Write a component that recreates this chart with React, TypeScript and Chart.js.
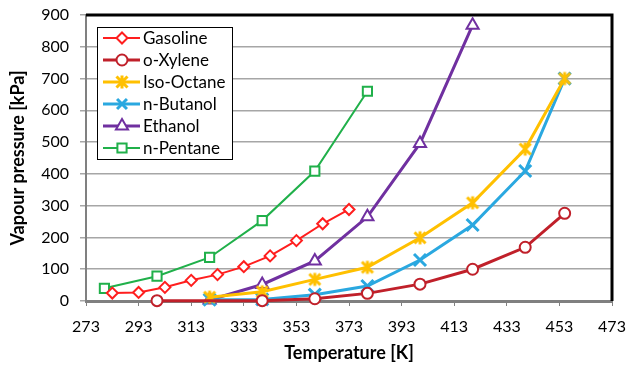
import React, { useEffect, useRef } from 'react';
import { Chart, registerables } from 'chart.js';
Chart.register(...registerables);

const FONT = 'Lato, "Open Sans", sans-serif';

// ---- data ----
const gasolineT = [283, 293, 303, 313, 323, 333, 343, 353, 363, 373];
const gasolineP = [25, 27, 43, 65, 83, 108, 142, 190, 243, 288];

const xyleneT = [300, 340, 360, 380, 400, 420, 440, 455];
const xyleneP = [1, 1, 7, 24, 53, 100, 169, 276];

const isoOctaneT = [320, 340, 360, 380, 400, 420, 440, 455];
const isoOctaneP = [12, 29, 68, 106, 199, 309, 478, 700];

const butanolT = [320, 340, 360, 380, 400, 420, 440, 455];
const butanolP = [4, 5, 20, 47, 129, 239, 409, 700];

const ethanolT = [320, 340, 360, 380, 400, 420];
const ethanolP = [3, 52, 126, 265, 496, 868];

const pentaneT = [280, 300, 320, 340, 360, 380];
const pentaneP = [40, 78, 137, 253, 409, 660];

const seriesLabels = ['Gasoline', 'o-Xylene', 'Iso-Octane', 'n-Butanol', 'Ethanol', 'n-Pentane'];
const xTitle = 'Temperature [K]';
const yTitle = 'Vapour pressure [kPa]';

// ---- styles ----
const styles = [
  { color: '#ff1e1e', width: 2, point: 'rectRot', radius: 5.5, fill: '#ffffff', pw: 2 },
  { color: '#c0202a', width: 3, point: 'circle', radius: 5.5, fill: '#ffffff', pw: 2 },
  { color: '#ffc000', width: 3, point: 'asterisk', radius: 6.5, fill: '#ffc000', pw: 3 },
  { color: '#2aa8e0', width: 3, point: 'crossRot', radius: 8.5, fill: '#2aa8e0', pw: 3 },
  { color: '#7030a0', width: 3, point: 'triangle', radius: 7, fill: '#ffffff', pw: 2 },
  { color: '#20b04a', width: 2, point: 'rect', radius: 6.5, fill: '#ffffff', pw: 2 },
];

const seriesData = [
  [gasolineT, gasolineP],
  [xyleneT, xyleneP],
  [isoOctaneT, isoOctaneP],
  [butanolT, butanolP],
  [ethanolT, ethanolP],
  [pentaneT, pentaneP],
];

function drawMarker(ctx: CanvasRenderingContext2D, kind: string, x: number, y: number, r: number, stroke: string, fill: string, lw: number) {
  ctx.save();
  ctx.strokeStyle = stroke;
  ctx.fillStyle = fill;
  ctx.lineWidth = lw;
  ctx.beginPath();
  if (kind === 'rectRot') {
    ctx.moveTo(x, y - r); ctx.lineTo(x + r, y); ctx.lineTo(x, y + r); ctx.lineTo(x - r, y); ctx.closePath();
    ctx.fill(); ctx.stroke();
  } else if (kind === 'circle') {
    ctx.arc(x, y, r, 0, Math.PI * 2); ctx.fill(); ctx.stroke();
  } else if (kind === 'rect') {
    const s = r * Math.SQRT1_2;
    ctx.rect(x - s, y - s, 2 * s, 2 * s); ctx.fill(); ctx.stroke();
  } else if (kind === 'triangle') {
    ctx.moveTo(x, y - r); ctx.lineTo(x + r * 0.866, y + r * 0.5); ctx.lineTo(x - r * 0.866, y + r * 0.5); ctx.closePath();
    ctx.fill(); ctx.stroke();
  } else if (kind === 'crossRot') {
    const s = r * Math.SQRT1_2;
    ctx.moveTo(x - s, y - s); ctx.lineTo(x + s, y + s); ctx.moveTo(x + s, y - s); ctx.lineTo(x - s, y + s); ctx.stroke();
  } else if (kind === 'asterisk') {
    const s = r * 0.85;
    ctx.moveTo(x - s, y - s); ctx.lineTo(x + s, y + s); ctx.moveTo(x + s, y - s); ctx.lineTo(x - s, y + s);
    ctx.moveTo(x, y - r); ctx.lineTo(x, y + r);
    ctx.stroke();
  }
  ctx.restore();
}

function makeAsterisk(color: string, r: number, lw: number): HTMLCanvasElement {
  const size = Math.ceil(2 * r + lw + 2);
  const c = document.createElement('canvas');
  c.width = size;
  c.height = size;
  const cx = c.getContext('2d') as CanvasRenderingContext2D;
  drawMarker(cx, 'asterisk', size / 2, size / 2, r, color, color, lw);
  return c;
}

const framePlugin = {
  id: 'frame',
  beforeDatasetsDraw(chart: any) {
    const { ctx, chartArea: a } = chart;
    ctx.save();
    ctx.strokeStyle = '#000000';
    ctx.lineWidth = 3;
    ctx.beginPath();
    ctx.moveTo(a.left, a.top);
    ctx.lineTo(a.right, a.top);
    ctx.lineTo(a.right, a.bottom);
    ctx.stroke();
    ctx.restore();
  },
};

const legendPlugin = {
  id: 'excelLegend',
  afterDraw(chart: any) {
    const ctx: CanvasRenderingContext2D = chart.ctx;
    const bx = 97, by = 27, bw = 135, bh = 132;
    ctx.save();
    ctx.fillStyle = '#ffffff';
    ctx.fillRect(bx, by, bw, bh);
    ctx.strokeStyle = '#000000';
    ctx.lineWidth = 1;
    ctx.strokeRect(bx + 0.5, by + 0.5, bw, bh);
    ctx.font = `17px ${FONT}`;
    ctx.textBaseline = 'middle';
    ctx.textAlign = 'left';
    seriesLabels.forEach((label, i) => {
      const st = styles[i];
      const y = 38 + i * 22;
      ctx.strokeStyle = st.color;
      ctx.lineWidth = st.width;
      ctx.beginPath();
      ctx.moveTo(103, y);
      ctx.lineTo(140, y);
      ctx.stroke();
      drawMarker(ctx, st.point, 122, y, Math.min(st.radius, 7), st.color, st.fill, st.pw);
      ctx.fillStyle = '#000000';
      ctx.fillText(label, 143, y + 1);
    });
    ctx.restore();
  },
};

export default function App() {
  const ref = useRef<HTMLCanvasElement | null>(null);
  useEffect(() => {
    if (!ref.current) return;
    const datasets = seriesData.map(([t, p], i) => {
      const st = styles[i];
      const ps: any = st.point === 'asterisk' ? makeAsterisk(st.color, st.radius, st.pw) : st.point;
      return {
        label: seriesLabels[i],
        data: t.map((x, j) => ({ x, y: p[j] })),
        borderColor: st.color,
        backgroundColor: st.fill,
        borderWidth: st.width,
        pointStyle: ps,
        pointRadius: st.radius,
        pointBorderWidth: st.pw,
        pointBorderColor: st.color,
        pointBackgroundColor: st.fill,
        tension: 0,
        clip: false as any,
      };
    });
    const chart = new Chart(ref.current, {
      type: 'line',
      data: { datasets },
      plugins: [framePlugin, legendPlugin],
      options: {
        animation: false,
        responsive: false,
        maintainAspectRatio: false,
        devicePixelRatio: 1,
        layout: { padding: { left: 0, right: 14, top: 15, bottom: 0 } },
        plugins: { legend: { display: false }, tooltip: { enabled: false } },
        scales: {
          x: {
            type: 'linear',
            min: 273,
            max: 473,
            afterFit: (s: any) => { s.height = 64; s.paddingLeft = 0; s.paddingRight = 0; },
            ticks: { stepSize: 20, color: '#000000', font: { family: FONT, size: 16 }, padding: 11, maxRotation: 0, autoSkip: false },
            grid: { drawOnChartArea: false, drawTicks: true, tickLength: 5, color: '#808080', lineWidth: 1 },
            border: { display: true, color: '#808080', width: 3 },
            title: { display: true, text: xTitle, color: '#000000', font: { family: FONT, size: 18, weight: 'bold' }, padding: { top: 0, bottom: 1 } },
          },
          y: {
            type: 'linear',
            min: 0,
            max: 900,
            afterFit: (s: any) => { s.width = 86; s.paddingTop = 0; s.paddingBottom = 0; },
            ticks: { stepSize: 100, color: '#000000', font: { family: FONT, size: 16 }, padding: 11 },
            grid: { color: '#a6a6a6', lineWidth: 1.5, tickLength: 6, drawTicks: true },
            border: { display: true, color: '#808080', width: 2 },
            title: { display: true, text: yTitle, color: '#000000', font: { family: FONT, size: 18, weight: 'bold' }, padding: { top: 7, bottom: 0 } },
          },
        },
      } as any,
    });
    return () => chart.destroy();
  }, []);
  return (
    <div style={{ position: 'fixed', left: 0, top: 0, width: 626, height: 365, background: '#ffffff' }}>
      <canvas ref={ref} width={626} height={365} style={{ width: 626, height: 365, display: 'block' }} />
    </div>
  );
}
